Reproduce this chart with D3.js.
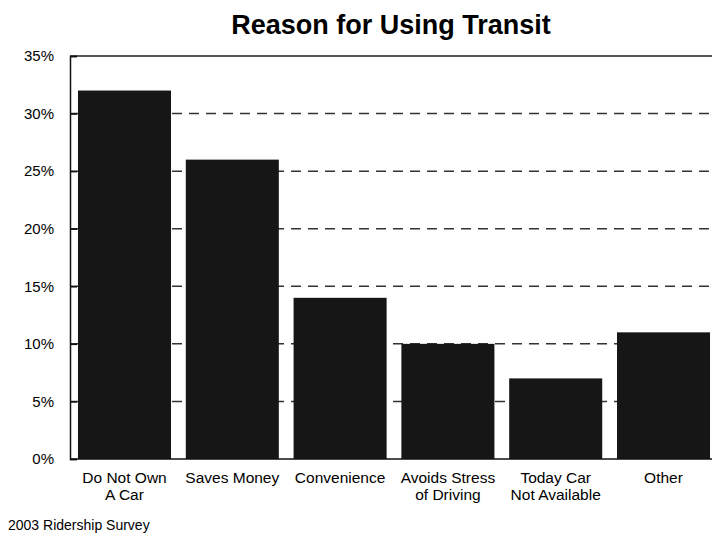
<!DOCTYPE html>
<html><head><meta charset="utf-8">
<script src="https://cdn.jsdelivr.net/npm/d3@7"></script>
<style>body{margin:0;background:#fff}svg{display:block}text{font-family:"Liberation Sans",Arial,sans-serif;fill:#000}</style>
</head><body>
<script>
const categories = [["Do Not Own","A Car"],["Saves Money"],["Convenience"],["Avoids Stress","of Driving"],["Today Car","Not Available"],["Other"]];
const values = [32, 26, 14, 10, 7, 11];
const yTicks = [0, 5, 10, 15, 20, 25, 30, 35];
const title = "Reason for Using Transit";
const footnote = "2003 Ridership Survey";

const W = 712, H = 539;
const m = {left: 70, top: 56, bottom: 80};
const svg = d3.select("body").append("svg").attr("width", W).attr("height", H);

const x = d3.scaleBand().domain(d3.range(categories.length)).range([m.left, 718]).paddingInner(0.137).paddingOuter(0.074);
const y = d3.scaleLinear().domain([0, 35]).range([H - m.bottom, m.top]);

// gridlines
svg.append("g").selectAll("line").data(yTicks.filter(t => t > 0 && t < 35)).join("line")
  .attr("x1", m.left).attr("x2", W).attr("y1", d => y(d)).attr("y2", d => y(d))
  .attr("stroke", "#333").attr("stroke-width", 1.5).attr("stroke-dasharray", "10,7");

// top border
svg.append("line").attr("x1", m.left).attr("x2", W).attr("y1", y(35)).attr("y2", y(35)).attr("stroke", "#222").attr("stroke-width", 1.5);

// bars
svg.append("g").selectAll("rect").data(values).join("rect")
  .attr("x", (d, i) => x(i)).attr("width", x.bandwidth())
  .attr("y", d => y(d)).attr("height", d => y(0) - y(d))
  .attr("fill", "#161616");

// y axis
const yAxis = d3.axisLeft(y).tickValues(yTicks).tickFormat(d => d + "%").tickSize(-7).tickPadding(16);
const gy = svg.append("g").attr("transform", `translate(${m.left},0)`).call(yAxis);
gy.select(".domain").attr("stroke", "#111").attr("stroke-width", 1.5);
gy.selectAll(".tick line").attr("stroke", "#111").attr("stroke-width", 1.5);
gy.selectAll("text").style("font-size", "15px").style("font-family", "Liberation Sans, Arial, sans-serif");

// x axis line
svg.append("line").attr("x1", m.left).attr("x2", W).attr("y1", y(0)).attr("y2", y(0)).attr("stroke", "#111").attr("stroke-width", 1.5);

// x labels
const xl = svg.append("g").selectAll("text").data(categories).join("text")
  .attr("x", (d, i) => x(i) + x.bandwidth() / 2).attr("y", y(0) + 24)
  .attr("text-anchor", "middle").style("font-size", "15.5px");
xl.selectAll("tspan").data(d => d).join("tspan")
  .attr("x", function() { return d3.select(this.parentNode).attr("x"); })
  .attr("dy", (d, i) => i === 0 ? 0 : 17).text(d => d);

// title
svg.append("text").attr("x", 391).attr("y", 34).attr("text-anchor", "middle")
  .style("font-size", "27px").style("font-weight", "bold").text(title);

// footnote
svg.append("text").attr("x", 8).attr("y", 530).style("font-size", "14px").text(footnote);
</script>
</body></html>
